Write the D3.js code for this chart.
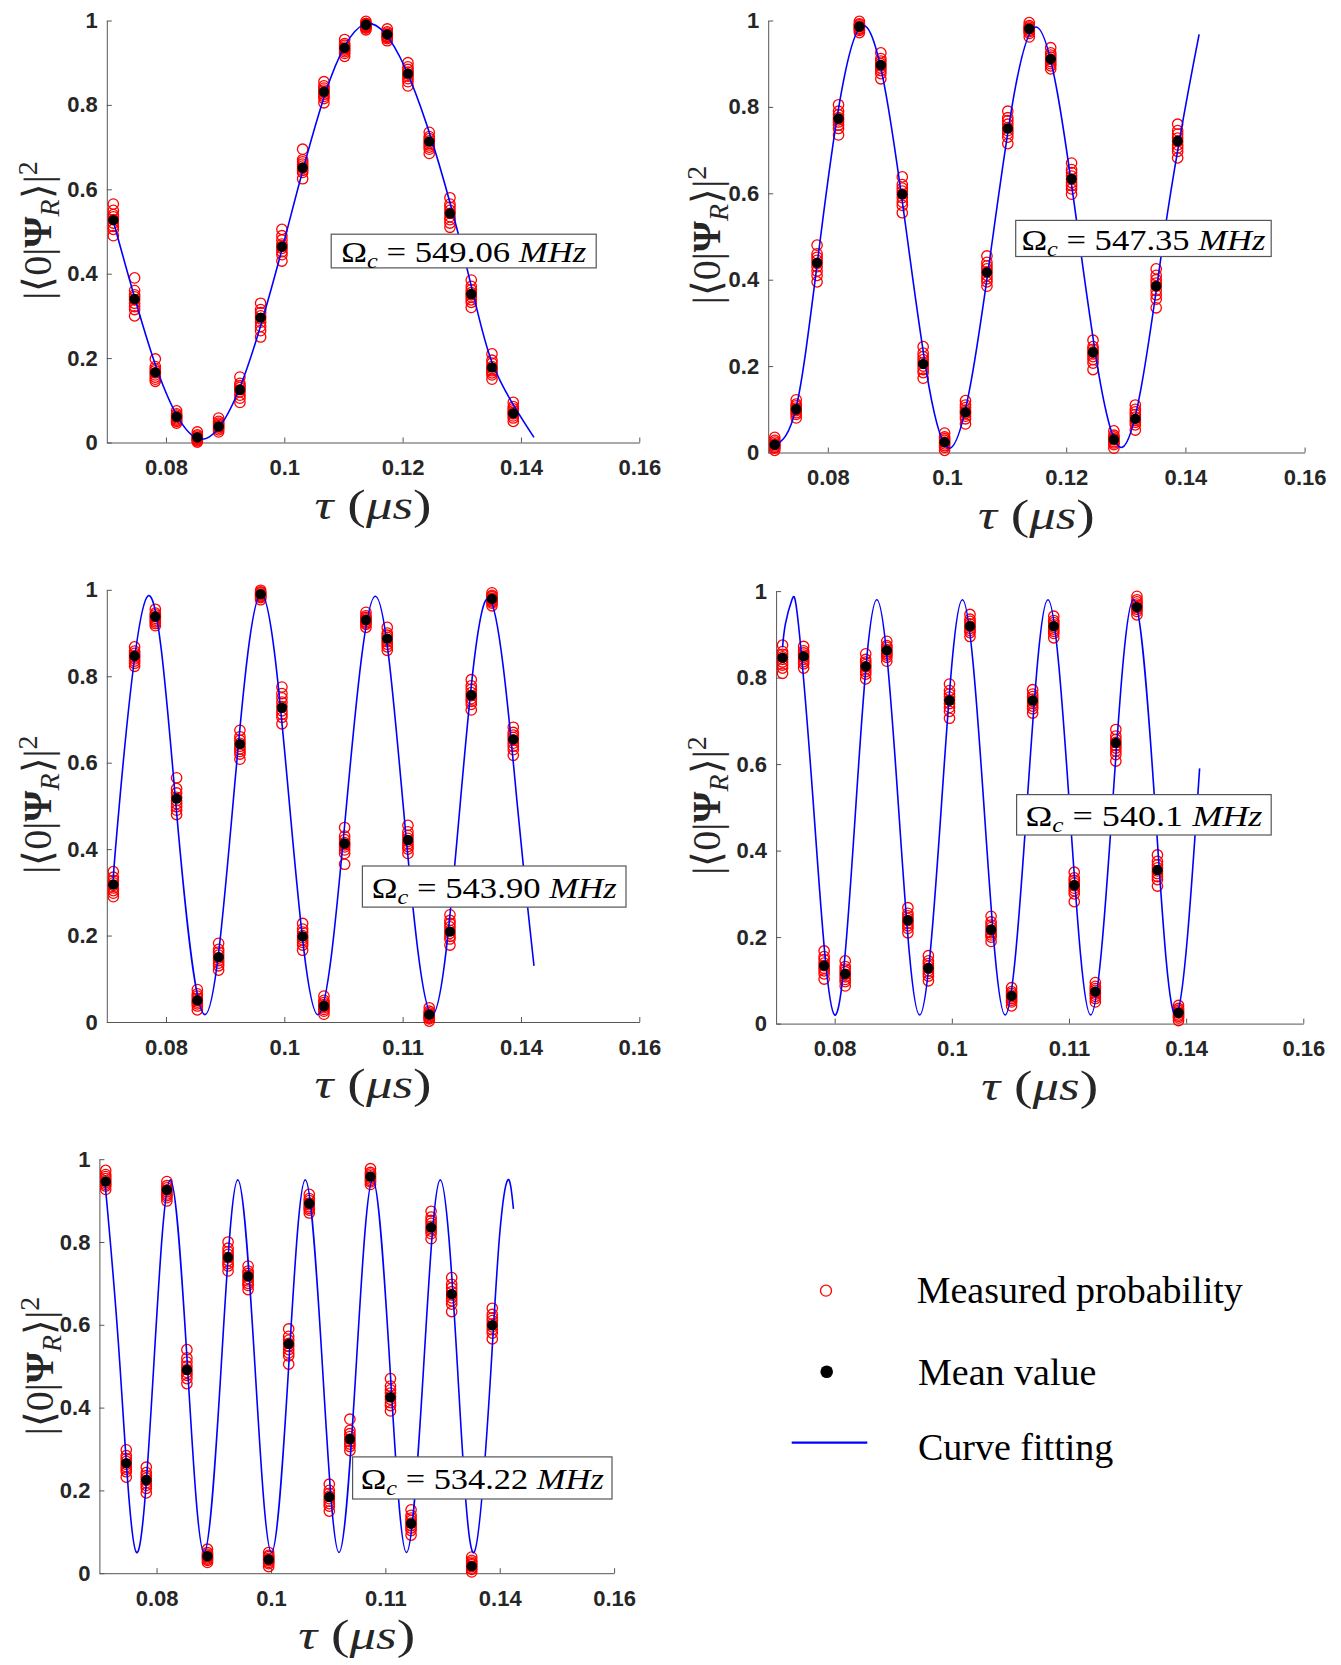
<!DOCTYPE html>
<html>
<head>
<meta charset="utf-8">
<script src="https://cdn.jsdelivr.net/npm/d3@7"></script>
<style>
  body { margin: 0; background: #fff; }
</style>
</head>
<body>
<div id="chart"></div>
<script>
// pulse durations (us), same for all five runs
const tau = [0.0711, 0.0747, 0.0782, 0.0818, 0.0853, 0.0889, 0.0925, 0.0960, 0.0996, 0.1031,
             0.1067, 0.1102, 0.1138, 0.1174, 0.1209, 0.1245, 0.1280, 0.1316, 0.1351, 0.1387];

// mean probability per pulse, one list per panel
const mean1 = [0.527, 0.340, 0.166, 0.061, 0.012, 0.038, 0.125, 0.296, 0.464, 0.651,
               0.831, 0.935, 0.990, 0.967, 0.874, 0.713, 0.543, 0.352, 0.178, 0.069];
const mean2 = [0.018, 0.100, 0.439, 0.773, 0.986, 0.897, 0.598, 0.205, 0.024, 0.093,
               0.417, 0.750, 0.981, 0.911, 0.633, 0.232, 0.030, 0.078, 0.385, 0.721];
const mean3 = [0.318, 0.847, 0.938, 0.517, 0.050, 0.150, 0.643, 0.990, 0.727, 0.198,
               0.037, 0.413, 0.930, 0.887, 0.421, 0.017, 0.209, 0.756, 0.979, 0.654];
const mean4 = [0.846, 0.849, 0.134, 0.115, 0.826, 0.863, 0.239, 0.128, 0.747, 0.919,
               0.217, 0.064, 0.747, 0.919, 0.320, 0.074, 0.649, 0.963, 0.355, 0.025];
const mean5 = [0.946, 0.266, 0.225, 0.926, 0.491, 0.041, 0.763, 0.717, 0.033, 0.554,
               0.893, 0.184, 0.324, 0.958, 0.425, 0.120, 0.835, 0.674, 0.017, 0.599];

// repeated measurements per pulse (estimated from the stacked circles)
const measured1 = [
  [0.565, 0.55, 0.54, 0.535, 0.528, 0.52, 0.512, 0.505, 0.49],
  [0.39, 0.36, 0.35, 0.345, 0.338, 0.33, 0.322, 0.315, 0.30],
  [0.198, 0.18, 0.174, 0.17, 0.165, 0.16, 0.155, 0.15, 0.145],
  [0.075, 0.068, 0.065, 0.062, 0.059, 0.056, 0.053, 0.05, 0.046],
  [0.025, 0.018, 0.015, 0.012, 0.01, 0.008, 0.006, 0.004, 0.001],
  [0.058, 0.05, 0.046, 0.043, 0.04, 0.037, 0.034, 0.03, 0.025],
  [0.155, 0.14, 0.135, 0.13, 0.125, 0.12, 0.112, 0.105, 0.095],
  [0.33, 0.315, 0.308, 0.30, 0.293, 0.285, 0.275, 0.265, 0.25],
  [0.505, 0.49, 0.48, 0.47, 0.465, 0.46, 0.452, 0.445, 0.43],
  [0.695, 0.67, 0.665, 0.66, 0.655, 0.65, 0.645, 0.64, 0.625],
  [0.855, 0.845, 0.84, 0.835, 0.83, 0.825, 0.82, 0.815, 0.805],
  [0.955, 0.945, 0.941, 0.937, 0.933, 0.93, 0.926, 0.922, 0.915],
  [0.998, 0.993, 0.991, 0.99, 0.988, 0.986, 0.984, 0.982, 0.978],
  [0.98, 0.973, 0.97, 0.967, 0.964, 0.962, 0.96, 0.957, 0.952],
  [0.90, 0.89, 0.884, 0.878, 0.873, 0.868, 0.862, 0.855, 0.845],
  [0.735, 0.725, 0.72, 0.715, 0.71, 0.705, 0.7, 0.695, 0.685],
  [0.58, 0.565, 0.558, 0.55, 0.543, 0.535, 0.528, 0.52, 0.51],
  [0.385, 0.37, 0.362, 0.355, 0.35, 0.345, 0.338, 0.332, 0.32],
  [0.21, 0.195, 0.188, 0.18, 0.175, 0.17, 0.165, 0.16, 0.15],
  [0.095, 0.085, 0.08, 0.075, 0.071, 0.068, 0.063, 0.058, 0.05]
];
const measured2 = [
  [0.035, 0.028, 0.024, 0.02, 0.018, 0.015, 0.012, 0.01, 0.005],
  [0.122, 0.112, 0.108, 0.103, 0.1, 0.097, 0.092, 0.088, 0.08],
  [0.48, 0.46, 0.452, 0.445, 0.438, 0.43, 0.42, 0.41, 0.395],
  [0.805, 0.79, 0.782, 0.775, 0.77, 0.765, 0.758, 0.75, 0.735],
  [0.998, 0.992, 0.99, 0.987, 0.985, 0.982, 0.98, 0.977, 0.972],
  [0.925, 0.912, 0.906, 0.9, 0.895, 0.89, 0.884, 0.877, 0.865],
  [0.638, 0.62, 0.612, 0.605, 0.598, 0.59, 0.58, 0.572, 0.555],
  [0.245, 0.23, 0.222, 0.215, 0.208, 0.2, 0.192, 0.185, 0.172],
  [0.045, 0.036, 0.032, 0.028, 0.024, 0.02, 0.016, 0.012, 0.005],
  [0.12, 0.11, 0.104, 0.098, 0.094, 0.09, 0.084, 0.078, 0.066],
  [0.455, 0.44, 0.432, 0.425, 0.418, 0.41, 0.402, 0.395, 0.385],
  [0.79, 0.775, 0.768, 0.76, 0.752, 0.745, 0.738, 0.73, 0.715],
  [0.995, 0.988, 0.985, 0.982, 0.98, 0.977, 0.974, 0.97, 0.962],
  [0.937, 0.925, 0.92, 0.915, 0.91, 0.905, 0.9, 0.895, 0.888],
  [0.67, 0.655, 0.648, 0.64, 0.633, 0.625, 0.618, 0.61, 0.598],
  [0.26, 0.245, 0.239, 0.233, 0.228, 0.222, 0.215, 0.207, 0.192],
  [0.05, 0.04, 0.036, 0.032, 0.029, 0.025, 0.022, 0.018, 0.01],
  [0.11, 0.1, 0.094, 0.088, 0.082, 0.075, 0.07, 0.064, 0.052],
  [0.425, 0.41, 0.4, 0.392, 0.385, 0.375, 0.365, 0.355, 0.335],
  [0.76, 0.745, 0.737, 0.728, 0.72, 0.712, 0.705, 0.697, 0.682]
];
const measured3 = [
  [0.348, 0.335, 0.328, 0.322, 0.316, 0.31, 0.304, 0.298, 0.29],
  [0.868, 0.858, 0.853, 0.848, 0.844, 0.84, 0.835, 0.83, 0.823],
  [0.955, 0.946, 0.942, 0.938, 0.934, 0.93, 0.926, 0.922, 0.917],
  [0.565, 0.54, 0.53, 0.52, 0.512, 0.505, 0.498, 0.49, 0.48],
  [0.075, 0.065, 0.06, 0.055, 0.05, 0.046, 0.042, 0.037, 0.028],
  [0.182, 0.168, 0.162, 0.155, 0.148, 0.142, 0.136, 0.13, 0.12],
  [0.675, 0.66, 0.652, 0.645, 0.638, 0.632, 0.626, 0.62, 0.608],
  [0.999, 0.995, 0.993, 0.99, 0.988, 0.986, 0.984, 0.982, 0.977],
  [0.775, 0.76, 0.75, 0.74, 0.73, 0.72, 0.712, 0.705, 0.69],
  [0.228, 0.215, 0.208, 0.2, 0.195, 0.19, 0.184, 0.178, 0.166],
  [0.06, 0.05, 0.045, 0.04, 0.036, 0.033, 0.029, 0.025, 0.018],
  [0.45, 0.43, 0.422, 0.415, 0.41, 0.405, 0.398, 0.39, 0.365],
  [0.948, 0.94, 0.936, 0.933, 0.93, 0.926, 0.923, 0.92, 0.913],
  [0.913, 0.9, 0.895, 0.89, 0.885, 0.88, 0.874, 0.868, 0.86],
  [0.455, 0.44, 0.432, 0.425, 0.418, 0.412, 0.406, 0.4, 0.39],
  [0.033, 0.025, 0.021, 0.018, 0.015, 0.012, 0.009, 0.007, 0.002],
  [0.248, 0.235, 0.228, 0.22, 0.212, 0.205, 0.198, 0.192, 0.178],
  [0.792, 0.778, 0.77, 0.762, 0.755, 0.748, 0.742, 0.735, 0.722],
  [0.993, 0.987, 0.984, 0.98, 0.978, 0.975, 0.972, 0.969, 0.963],
  [0.682, 0.67, 0.664, 0.658, 0.652, 0.645, 0.638, 0.63, 0.617]
];
const measured4 = [
  [0.875, 0.86, 0.854, 0.848, 0.842, 0.836, 0.829, 0.822, 0.81],
  [0.872, 0.862, 0.857, 0.852, 0.847, 0.842, 0.837, 0.832, 0.822],
  [0.168, 0.155, 0.148, 0.14, 0.134, 0.128, 0.122, 0.115, 0.103],
  [0.145, 0.132, 0.126, 0.12, 0.114, 0.108, 0.102, 0.097, 0.087],
  [0.855, 0.842, 0.836, 0.83, 0.825, 0.82, 0.814, 0.808, 0.797],
  [0.884, 0.874, 0.87, 0.865, 0.86, 0.856, 0.852, 0.847, 0.838],
  [0.268, 0.255, 0.249, 0.243, 0.238, 0.232, 0.226, 0.22, 0.21],
  [0.157, 0.145, 0.139, 0.133, 0.128, 0.122, 0.116, 0.11, 0.099],
  [0.785, 0.77, 0.762, 0.755, 0.748, 0.74, 0.731, 0.722, 0.706],
  [0.946, 0.935, 0.93, 0.924, 0.919, 0.914, 0.909, 0.904, 0.895],
  [0.248, 0.235, 0.228, 0.222, 0.216, 0.21, 0.205, 0.2, 0.19],
  [0.083, 0.074, 0.07, 0.066, 0.062, 0.058, 0.054, 0.05, 0.041],
  [0.772, 0.762, 0.756, 0.75, 0.745, 0.74, 0.734, 0.728, 0.718],
  [0.942, 0.932, 0.927, 0.922, 0.917, 0.912, 0.907, 0.902, 0.892],
  [0.35, 0.337, 0.331, 0.325, 0.319, 0.313, 0.307, 0.3, 0.282],
  [0.095, 0.086, 0.081, 0.077, 0.072, 0.068, 0.063, 0.058, 0.05],
  [0.68, 0.665, 0.657, 0.65, 0.643, 0.637, 0.63, 0.622, 0.607],
  [0.988, 0.98, 0.975, 0.97, 0.966, 0.962, 0.958, 0.953, 0.945],
  [0.39, 0.375, 0.367, 0.36, 0.353, 0.347, 0.34, 0.333, 0.318],
  [0.042, 0.035, 0.031, 0.027, 0.024, 0.02, 0.017, 0.013, 0.007]
];
const measured5 = [
  [0.973, 0.963, 0.958, 0.953, 0.948, 0.943, 0.939, 0.935, 0.927],
  [0.298, 0.284, 0.277, 0.27, 0.263, 0.257, 0.251, 0.245, 0.232],
  [0.256, 0.243, 0.236, 0.23, 0.224, 0.218, 0.212, 0.205, 0.194],
  [0.946, 0.936, 0.931, 0.926, 0.921, 0.916, 0.912, 0.907, 0.899],
  [0.54, 0.52, 0.51, 0.5, 0.492, 0.485, 0.478, 0.47, 0.458],
  [0.058, 0.05, 0.046, 0.043, 0.04, 0.037, 0.034, 0.031, 0.026],
  [0.8, 0.785, 0.777, 0.77, 0.762, 0.755, 0.748, 0.742, 0.73],
  [0.742, 0.73, 0.724, 0.718, 0.712, 0.706, 0.7, 0.695, 0.685],
  [0.05, 0.043, 0.04, 0.036, 0.033, 0.03, 0.026, 0.023, 0.016],
  [0.59, 0.572, 0.563, 0.555, 0.548, 0.54, 0.532, 0.525, 0.505],
  [0.915, 0.905, 0.9, 0.894, 0.89, 0.885, 0.881, 0.877, 0.87],
  [0.215, 0.2, 0.193, 0.186, 0.18, 0.174, 0.168, 0.162, 0.15],
  [0.372, 0.345, 0.337, 0.33, 0.324, 0.318, 0.312, 0.306, 0.296],
  [0.977, 0.968, 0.964, 0.96, 0.956, 0.952, 0.948, 0.945, 0.939],
  [0.47, 0.452, 0.443, 0.435, 0.427, 0.42, 0.412, 0.405, 0.392],
  [0.153, 0.14, 0.133, 0.127, 0.121, 0.115, 0.109, 0.103, 0.092],
  [0.874, 0.86, 0.852, 0.845, 0.838, 0.832, 0.826, 0.82, 0.808],
  [0.714, 0.698, 0.689, 0.68, 0.672, 0.665, 0.658, 0.65, 0.632],
  [0.039, 0.031, 0.027, 0.023, 0.02, 0.016, 0.012, 0.009, 0.003],
  [0.64, 0.625, 0.617, 0.61, 0.602, 0.595, 0.588, 0.58, 0.566]
];

// fitted curve, read as [tau, value] at its extrema and half-way crossings
const fit1 = [[0.0711, 0.525], [0.0859, 0.008], [0.1004, 0.50], [0.1148, 0.992], [0.1293, 0.50],
              [0.1351, 0.19], [0.1422, 0.012]];
const fit2 = [[0.0711, 0.015], [0.0747, 0.105], [0.0788, 0.50], [0.0858, 0.988], [0.0933, 0.50],
              [0.1004, 0.010], [0.1077, 0.50], [0.1149, 0.985], [0.1221, 0.50], [0.1294, 0.012],
              [0.1364, 0.50], [0.1423, 0.968]];
const fit3 = [[0.0711, 0.33], [0.0721, 0.50], [0.0769, 0.985], [0.0817, 0.50], [0.0866, 0.017],
              [0.0913, 0.50], [0.0961, 0.99], [0.1009, 0.50], [0.1057, 0.017], [0.1105, 0.50],
              [0.1154, 0.985], [0.1201, 0.50], [0.1250, 0.017], [0.1297, 0.50], [0.1346, 0.98],
              [0.1394, 0.50], [0.1422, 0.13]];
const fit4 = [[0.0711, 0.87], [0.0716, 0.925], [0.0727, 0.98], [0.0738, 0.925], [0.0764, 0.50],
              [0.0800, 0.02], [0.0836, 0.50], [0.0872, 0.98], [0.0909, 0.50], [0.0945, 0.02],
              [0.0982, 0.50], [0.1018, 0.98], [0.1055, 0.50], [0.1091, 0.02], [0.1128, 0.50],
              [0.1164, 0.98], [0.1201, 0.50], [0.1237, 0.02], [0.1274, 0.50], [0.1310, 0.98],
              [0.1347, 0.50], [0.1383, 0.02], [0.1423, 0.59]];
const fit5 = [[0.0710, 0.94], [0.0736, 0.50], [0.0765, 0.05], [0.0795, 0.50], [0.0824, 0.95],
              [0.0854, 0.50], [0.0883, 0.05], [0.0913, 0.50], [0.0942, 0.95], [0.0972, 0.50],
              [0.1001, 0.05], [0.1031, 0.50], [0.1060, 0.95], [0.1090, 0.50], [0.1119, 0.05],
              [0.1149, 0.50], [0.1178, 0.95], [0.1208, 0.50], [0.1237, 0.05], [0.1267, 0.50],
              [0.1296, 0.95], [0.1326, 0.50], [0.1355, 0.05], [0.1385, 0.50], [0.1400, 0.82],
              [0.1414, 0.95], [0.1424, 0.88]];

const omegaValues = ["549.06", "547.35", "543.90", "540.1", "534.22"];

const xTickValues = [0.08, 0.10, 0.12, 0.14, 0.16];
const xTickLabelsTop = ["0.08", "0.1", "0.12", "0.14", "0.16"];
const xTickLabelsLower = ["0.08", "0.1", "0.11", "0.14", "0.16"];
const yTickValues = [0, 0.2, 0.4, 0.6, 0.8, 1];
const yTickLabels = ["0", "0.2", "0.4", "0.6", "0.8", "1"];

const legendLabels = ["Measured probability", "Mean value", "Curve fitting"];

// pixel boxes of each axes, annotation box [x0,y0,x1,y1,textWidth], y label anchor
const layout = [
  {left: 106.8, right: 639.3, top: 20.5, bottom: 442.5, box: [331.2, 234.2, 596.2, 267.9, 245], ylab: [51, 230.5]},
  {left: 768.2, right: 1304.6, top: 20.5, bottom: 452.5, box: [1015.7, 220.4, 1271.2, 256.5, 244], ylab: [720, 235]},
  {left: 106.8, right: 639.3, top: 589.8, bottom: 1022, box: [362.4, 866, 626, 907.1, 245], ylab: [51, 804.6]},
  {left: 776.1, right: 1303.3, top: 591.1, bottom: 1023.6, box: [1016.6, 794.6, 1271.2, 835, 237], ylab: [720, 805.5]},
  {left: 99.4, right: 614.1, top: 1159.2, bottom: 1573.2, box: [352.6, 1456.9, 612, 1499, 243], ylab: [53, 1366]}
];

const series = [
  {mean: mean1, measured: measured1, fit: fit1, xLabels: xTickLabelsTop},
  {mean: mean2, measured: measured2, fit: fit2, xLabels: xTickLabelsTop},
  {mean: mean3, measured: measured3, fit: fit3, xLabels: xTickLabelsLower},
  {mean: mean4, measured: measured4, fit: fit4, xLabels: xTickLabelsLower},
  {mean: mean5, measured: measured5, fit: fit5, xLabels: xTickLabelsLower}
];

const axisColor = "#262626";
const serif = "'Liberation Serif', 'Times New Roman', serif";

const svg = d3.select("#chart").append("svg")
    .attr("width", 1341)
    .attr("height", 1665)
    .style("background", "#fff");

series.forEach((s, i) => {
  const L = layout[i];
  const x = d3.scaleLinear().domain([0.07, 0.16]).range([L.left, L.right]);
  const y = d3.scaleLinear().domain([0, 1]).range([L.bottom, L.top]);

  const g = svg.append("g");

  // axes, MATLAB style: ticks inward, no box
  const xAxis = g.append("g")
      .attr("transform", `translate(0,${L.bottom})`)
      .call(d3.axisBottom(x)
        .tickValues(xTickValues)
        .tickFormat((d, j) => s.xLabels[j])
        .tickSizeInner(-5)
        .tickSizeOuter(0)
        .tickPadding(17));
  const yAxis = g.append("g")
      .attr("transform", `translate(${L.left},0)`)
      .call(d3.axisLeft(y)
        .tickValues(yTickValues)
        .tickFormat((d, j) => yTickLabels[j])
        .tickSizeInner(-5)
        .tickSizeOuter(0)
        .tickPadding(9));

  [xAxis, yAxis].forEach(a => {
    a.select(".domain").attr("stroke", "#555");
    a.selectAll(".tick line").attr("stroke", "#555");
    a.selectAll(".tick text")
      .attr("fill", axisColor)
      .style("font-family", "'Liberation Sans', Arial, sans-serif")
      .style("font-weight", "bold")
      .style("font-size", "22px");
  });

  // red circles for every single measurement
  const pts = [];
  s.measured.forEach((vals, j) => vals.forEach(v => pts.push([tau[j], v])));
  g.append("g")
    .selectAll("circle")
    .data(pts)
    .join("circle")
      .attr("cx", d => x(d[0]))
      .attr("cy", d => y(d[1]))
      .attr("r", 5.2)
      .attr("fill", "none")
      .attr("stroke", "#ff0000")
      .attr("stroke-width", 1.3);

  // fitted curve
  g.append("path")
    .datum(s.fit)
    .attr("d", d3.line().x(d => x(d[0])).y(d => y(d[1])).curve(d3.curveNatural))
    .attr("fill", "none")
    .attr("stroke", "#0000ff")
    .attr("stroke-width", 1.6);

  // black mean dots
  g.append("g")
    .selectAll("circle")
    .data(s.mean)
    .join("circle")
      .attr("cx", (d, j) => x(tau[j]))
      .attr("cy", d => y(d))
      .attr("r", 5.2)
      .attr("fill", "#000");

  // annotation box
  const [bx0, by0, bx1, by1, tw] = L.box;
  g.append("rect")
    .attr("x", bx0).attr("y", by0)
    .attr("width", bx1 - bx0).attr("height", by1 - by0)
    .attr("fill", "#fff")
    .attr("stroke", "#555")
    .attr("stroke-width", 1.2);
  const fs = 30;
  const ann = g.append("text")
    .attr("x", (bx0 + bx1) / 2)
    .attr("y", (by0 + by1) / 2 + fs * 0.37)
    .attr("text-anchor", "middle")
    .attr("textLength", tw)
    .attr("lengthAdjust", "spacingAndGlyphs")
    .style("font-family", serif)
    .style("font-size", fs + "px");
  ann.append("tspan").text("Ω");
  ann.append("tspan").text("c").attr("font-style", "italic").attr("font-size", "0.7em").attr("dy", "0.3em");
  ann.append("tspan").text(" = " + omegaValues[i] + " ").attr("dy", "-0.21em");
  ann.append("tspan").text("MHz").attr("font-style", "italic");

  // y label |<0|Psi_R>|^2
  const yl = g.append("text")
    .attr("transform", `translate(${L.ylab[0]},${L.ylab[1]}) rotate(-90)`)
    .attr("text-anchor", "middle")
    .style("font-family", serif)
    .style("font-size", "40px")
    .attr("fill", axisColor);
  yl.append("tspan").text("|\u27E80|");
  yl.append("tspan").text("\u03A8").attr("font-weight", "bold");
  yl.append("tspan").text("R").attr("font-style", "italic").attr("font-size", "0.7em").attr("dy", "0.3em");
  yl.append("tspan").text("\u27E9|").attr("dy", "-0.21em");
  yl.append("tspan").text("2").attr("font-size", "0.7em").attr("dy", "-0.5em");

  // x label tau (mu s)
  const xl = g.append("text")
    .attr("x", (L.left + L.right) / 2)
    .attr("y", L.bottom + 76)
    .attr("text-anchor", "middle")
    .attr("textLength", 117)
    .attr("lengthAdjust", "spacingAndGlyphs")
    .style("font-family", serif)
    .style("font-size", "40px")
    .attr("fill", axisColor);
  xl.append("tspan").text("\u03C4").attr("font-style", "italic");
  xl.append("tspan").text(" (").attr("font-size", "42px");
  xl.append("tspan").text("\u03BCs").attr("font-style", "italic");
  xl.append("tspan").text(")").attr("font-size", "42px");
});

// legend
const leg = svg.append("g").style("font-family", serif).style("font-size", "38px");
leg.append("circle").attr("cx", 826).attr("cy", 1290.7).attr("r", 5.5)
  .attr("fill", "none").attr("stroke", "#ff0000").attr("stroke-width", 1.3);
leg.append("circle").attr("cx", 826.7).attr("cy", 1371.7).attr("r", 6.3).attr("fill", "#000");
leg.append("line").attr("x1", 791.7).attr("x2", 867.3).attr("y1", 1442.7).attr("y2", 1442.7)
  .attr("stroke", "#0000ff").attr("stroke-width", 2.2);
leg.selectAll("text.lab")
  .data(legendLabels)
  .join("text")
    .attr("class", "lab")
    .attr("x", (d, i) => [916.7, 918, 918][i])
    .attr("y", (d, i) => [1303, 1385, 1460][i])
    .attr("fill", "#000")
    .text(d => d);
</script>
</body>
</html>
